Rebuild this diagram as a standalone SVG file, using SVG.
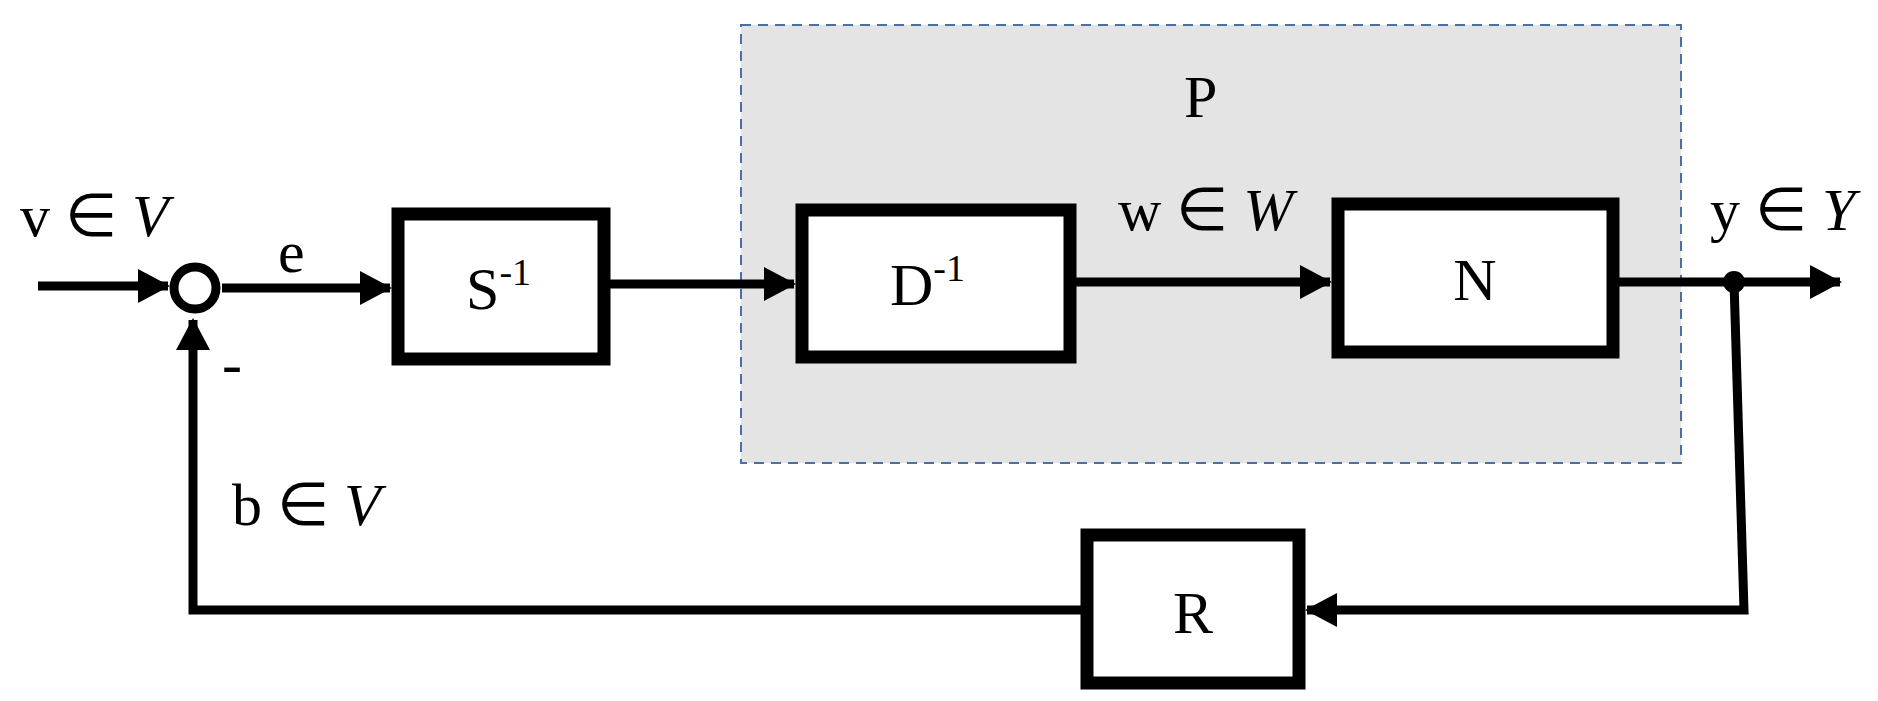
<svg xmlns="http://www.w3.org/2000/svg" width="1878" height="701" viewBox="0 0 1878 701">
<style>
.box{fill:#fff;stroke:#000;stroke-width:13}
.ln{fill:none;stroke:#000;stroke-width:9}
.t{font-family:"Liberation Serif",serif;font-size:60px;fill:#000}
.i{font-style:italic}
</style>
<defs>
<marker id="ar" markerUnits="userSpaceOnUse" markerWidth="32" markerHeight="34" refX="30" refY="17" orient="auto">
<path d="M0,0 L32,17 L0,34 Z" fill="#000"/>
</marker>
</defs>
<rect x="741" y="25" width="940" height="438" fill="#e4e4e4" stroke="#4a6fa5" stroke-width="2" stroke-dasharray="10,7"/>
<text class="t" x="1184" y="117">P</text>
<g id="connectors">
<path class="ln" d="M38,286 H168" marker-end="url(#ar)"/>
<path class="ln" d="M222,288 H390" marker-end="url(#ar)"/>
<path class="ln" d="M610,284 H794" marker-end="url(#ar)"/>
<path class="ln" d="M1076,282 H1330" marker-end="url(#ar)"/>
<path class="ln" d="M1619,282 H1840" marker-end="url(#ar)"/>
<path class="ln" d="M1734,282 L1744,610 H1307" marker-end="url(#ar)"/>
<path class="ln" d="M1081,610 H193 V320" marker-end="url(#ar)"/>
<circle cx="1734" cy="282" r="11" fill="#000"/>
</g>
<g id="sum"><circle cx="195" cy="288" r="21" fill="#fff" stroke="#000" stroke-width="9"/></g>
<g id="S"><rect class="box" x="398" y="214" width="206" height="145"/><text class="t" x="466" y="309">S<tspan font-size="38" dy="-24">-1</tspan></text></g>
<g id="D"><rect class="box" x="802" y="210" width="268" height="147"/><text class="t" x="890" y="305">D<tspan font-size="38" dy="-24">-1</tspan></text></g>
<g id="N"><rect class="box" x="1338" y="204" width="275" height="148"/><text class="t" x="1475" y="300" text-anchor="middle">N</text></g>
<g id="R"><rect class="box" x="1087" y="535" width="212" height="148"/><text class="t" x="1193" y="633" text-anchor="middle">R</text></g>
<g id="labels">
<text class="t" x="20" y="236">v ∈ <tspan class="i">V</tspan></text>
<text class="t" x="278" y="272">e</text>
<text class="t" x="222" y="384">-</text>
<text class="t" x="232" y="525">b ∈ <tspan class="i">V</tspan></text>
<text class="t" x="1118" y="230">w ∈ <tspan class="i">W</tspan></text>
<text class="t" x="1710" y="230">y ∈ <tspan class="i">Y</tspan></text>
</g>
</svg>
